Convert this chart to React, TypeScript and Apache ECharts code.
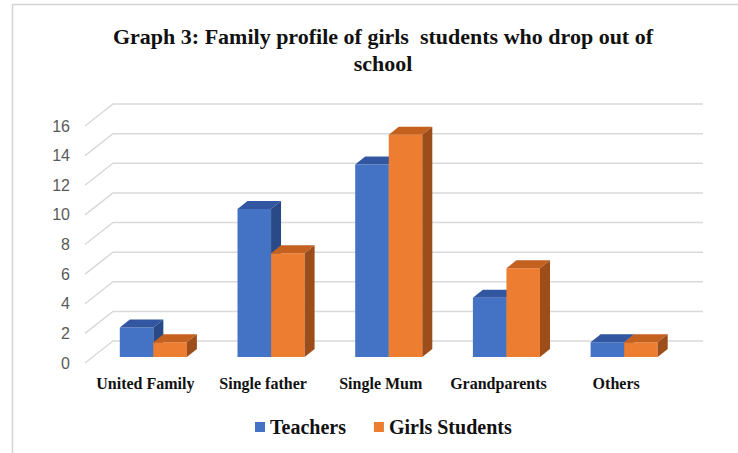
import React, { useEffect, useRef } from "react";
import * as echarts from "echarts";

const categories = ["United Family", "Single father", "Single Mum", "Grandparents", "Others"];
const teachers = [2, 10, 13, 4, 1];
const girlsStudents = [1, 7, 15, 6, 1];
const yTicks = [0, 2, 4, 6, 8, 10, 12, 14, 16];
const titleLines = ["Graph 3: Family profile of girls  students who drop out of", "school"];

const SERIF = '"Liberation Serif", "Times New Roman", serif';
const SANS = '"Liberation Sans", Arial, sans-serif';

const DX = 10;
const DY = 8;
const BAR_FRAC = 0.285;

function barRenderer(side: "left" | "right", front: string, top: string, sideCol: string) {
  return (params: any, api: any) => {
    const i = api.value(0);
    const v = api.value(1);
    const p = api.coord([i, v]);
    const p0 = api.coord([i, 0]);
    const bw = api.size([1, 0])[0] * BAR_FRAC;
    const x = side === "left" ? p[0] - bw : p[0];
    const yv = p[1];
    const y0 = p0[1];
    return {
      type: "group",
      children: [
        {
          type: "rect",
          shape: { x, y: yv, width: bw, height: y0 - yv },
          style: { fill: front },
        },
        {
          type: "polygon",
          shape: {
            points: [
              [x, yv],
              [x + DX, yv - DY],
              [x + bw + DX, yv - DY],
              [x + bw, yv],
            ],
          },
          style: { fill: top },
        },
        {
          type: "polygon",
          shape: {
            points: [
              [x + bw, yv],
              [x + bw + DX, yv - DY],
              [x + bw + DX, y0 - DY],
              [x + bw, y0],
            ],
          },
          style: { fill: sideCol },
        },
      ],
    };
  };
}

export default function App() {
  const ref = useRef<HTMLDivElement>(null);
  useEffect(() => {
    if (!ref.current) return;
    const chart = echarts.init(ref.current, null, { renderer: "svg" });
    const option: any = {
      animation: false,
      backgroundColor: "#ffffff",
      legend: {
        left: 250,
        top: 412,
        icon: "rect",
        itemWidth: 10,
        itemHeight: 10,
        itemGap: 28,
        textStyle: {
          fontFamily: SERIF,
          fontWeight: "bold",
          fontSize: 20,
          color: "#111111",
        },
        data: ["Teachers", "Girls Students"],
      },
      grid: [
        { left: 94.5, right: 55, top: 120, bottom: 96 },
        { left: 86.5, right: 63, top: 126, bottom: 90 },
      ],
      xAxis: [
        { type: "category", data: categories, gridIndex: 0, show: false },
        {
          type: "category",
          data: categories,
          gridIndex: 1,
          axisLine: { show: false },
          axisTick: { show: false },
          axisLabel: {
            margin: 12,
            fontFamily: SERIF,
            fontWeight: "bold",
            fontSize: 16,
            color: "#111111",
            interval: 0,
          },
        },
      ],
      yAxis: [
        { type: "value", min: 0, max: 16, interval: 2, gridIndex: 0, show: false },
        {
          type: "value",
          min: 0,
          max: 16,
          interval: 2,
          gridIndex: 1,
          axisLine: { show: false },
          axisTick: { show: false },
          splitLine: { show: false },
          axisLabel: {
            margin: 16.5,
            fontFamily: SANS,
            fontSize: 16,
            color: "#595959",
          },
        },
      ],
      series: [
        {
          type: "custom",
          name: "grid",
          xAxisIndex: 0,
          yAxisIndex: 0,
          z: 1,
          silent: true,
          data: yTicks.map((v) => [0, v]),
          renderItem: (params: any, api: any) => {
            const v = api.value(1);
            const cs = params.coordSys;
            const yb = api.coord([0, v])[1] - 16;
            return {
              type: "polyline",
              shape: {
                points: [
                  [cs.x - 9.5, yb + 22],
                  [cs.x + 18.5, yb],
                  [cs.x + cs.width + 20, yb],
                ],
              },
              style: { stroke: "#d9d9d9", lineWidth: 1.5, fill: "none" },
            };
          },
        },
        {
          type: "custom",
          name: "Teachers",
          xAxisIndex: 0,
          yAxisIndex: 0,
          z: 2,
          itemStyle: { color: "#4472C4" },
          data: teachers.map((v, i) => [i, v]),
          renderItem: barRenderer("left", "#4472C4", "#3257A0", "#2A4A87"),
        },
        {
          type: "custom",
          name: "Girls Students",
          xAxisIndex: 0,
          yAxisIndex: 0,
          z: 3,
          itemStyle: { color: "#ED7D31" },
          data: girlsStudents.map((v, i) => [i, v]),
          renderItem: barRenderer("right", "#ED7D31", "#C4611F", "#9C4D19"),
        },
      ],
      graphic: [
        {
          type: "line",
          shape: { x1: 12.5, y1: 4.5, x2: 12.5, y2: 453 },
          style: { stroke: "#d4d4d4", lineWidth: 1.5 },
        },
        {
          type: "line",
          shape: { x1: 12, y1: 4.5, x2: 738, y2: 4.5 },
          style: { stroke: "#d4d4d4", lineWidth: 1.5 },
        },
        ...titleLines.map((t, k) => ({
          type: "text",
          x: 383,
          y: 36 + k * 27,
          style: {
            text: t,
            textAlign: "center",
            textVerticalAlign: "middle",
            fontFamily: SERIF,
            fontWeight: "bold",
            fontSize: 22,
            fill: "#111111",
          },
        })),
      ],
    };
    chart.setOption(option);
    return () => chart.dispose();
  }, []);
  return (
    <div
      ref={ref}
      style={{ position: "fixed", left: 0, top: 0, width: 738, height: 453 }}
    />
  );
}
